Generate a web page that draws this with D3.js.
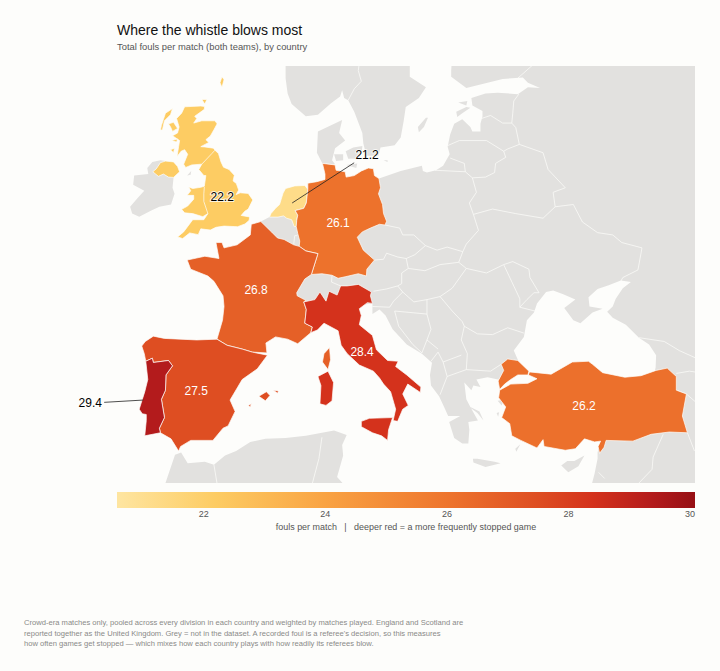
<!DOCTYPE html>
<html>
<head>
<meta charset="utf-8">
<script src="https://cdn.jsdelivr.net/npm/d3@7"></script>
<style>
  html, body { margin: 0; padding: 0; background: #fdfdfb; }
  svg { display: block; font-family: "Liberation Sans", Arial, sans-serif; }
</style>
</head>
<body>
<svg id="chart" width="720" height="671"></svg>
<script>
// fouls per match
const countries = ["United Kingdom", "Netherlands", "Germany", "France", "Spain", "Italy", "Portugal", "Turkey"];
const foulValues = [22.2, 21.2, 26.1, 26.8, 27.5, 28.4, 29.4, 26.2];

// label anchors, lon/lat
const labelLon = [-1.28, 13.07, 10.2, 2.08, -3.86, 12.58, -14.35, 34.56];
const labelLat = [52.7, 55.47, 51.0, 46.6, 39.94, 42.5, 39.2, 38.95];
const labelColors = ["#000", "#000", "#fff", "#fff", "#fff", "#fff", "#000", "#fff"];

// colour bar
const rampStops = [20.6, 22.2, 24, 26, 27.5, 28.4, 29.4, 30.1];
const rampColors = ["#fee5a0", "#fdcc63", "#f9a343", "#ee752d", "#de4e22", "#d4321c", "#b31b1c", "#960f14"];
const legendTicks = [22, 24, 26, 28, 30];

// outlines, all lon/lat
const gbMain = [[-5.7,50.07],[-5.2,49.96],[-4.5,50.33],[-3.65,50.22],[-3.4,50.6],[-2.45,50.52],[-1.9,50.7],[-1.1,50.78],[0.25,50.74],[0.97,50.92],[1.38,51.15],[1.44,51.38],[0.6,51.48],[0.95,51.75],[1.3,51.9],[1.75,52.5],[1.3,52.93],[0.5,52.97],[0.1,52.85],[0.35,53.15],[0.12,53.58],[-0.2,53.75],[-0.08,54.12],[-0.6,54.5],[-1.15,54.65],[-1.4,55.0],[-1.65,55.55],[-2.0,55.77],[-2.15,55.9],[-3.0,55.98],[-3.4,56.0],[-2.6,56.28],[-2.9,56.46],[-2.45,56.7],[-2.07,57.15],[-1.78,57.5],[-2.0,57.7],[-3.3,57.7],[-4.1,57.55],[-3.8,57.85],[-4.0,58.0],[-3.05,58.45],[-3.03,58.64],[-3.4,58.67],[-5.0,58.62],[-5.3,58.2],[-5.8,57.85],[-5.55,57.3],[-5.7,56.9],[-6.2,56.72],[-5.5,56.4],[-5.6,56.0],[-5.75,55.35],[-5.35,55.7],[-5.0,55.8],[-4.7,55.5],[-5.1,54.85],[-4.9,54.63],[-4.3,54.8],[-3.3,54.85],[-3.6,54.5],[-3.1,54.1],[-2.9,54.1],[-3.05,53.4],[-3.4,53.33],[-4.2,53.25],[-4.6,53.35],[-4.4,53.1],[-4.75,52.8],[-4.1,52.8],[-4.1,52.55],[-4.7,52.1],[-5.3,51.88],[-5.0,51.65],[-4.2,51.6],[-3.2,51.4],[-2.7,51.6],[-3.1,51.2],[-4.2,51.2],[-5.1,50.4]];
const gbIslands = [
  [[-6.2,58.5],[-6.9,58.2],[-7.1,57.8],[-7.3,57.4],[-7.4,57.1],[-7.2,57.1],[-7.0,57.7],[-6.4,58.1]],
  [[-6.6,57.5],[-6.1,57.6],[-5.7,57.2],[-6.2,57.0],[-6.4,57.3]],
  [[-6.3,56.4],[-5.7,56.5],[-5.8,56.3]],
  [[-6.4,55.8],[-6.0,55.9],[-6.1,55.6]],
  [[-3.3,59.1],[-2.8,59.1],[-3.0,58.8]],
  [[-1.3,60.6],[-1.1,60.4],[-1.3,59.9],[-1.5,60.2]]
];
const northernIreland = [[-7.4,54.95],[-6.9,55.05],[-6.1,55.0],[-5.7,54.7],[-5.5,54.35],[-6.1,53.98],[-6.6,54.0],[-7.1,54.2],[-7.6,54.05],[-8.15,54.35],[-7.8,54.55]];
const netherlands = [[3.4,51.37],[4.25,51.37],[4.8,51.45],[5.1,51.3],[5.6,51.2],[5.85,50.75],[6.05,50.75],[6.1,51.15],[6.2,51.5],[5.95,51.8],[6.8,51.95],[7.05,52.3],[7.2,53.2],[6.9,53.45],[5.9,53.42],[5.0,53.25],[4.75,52.95],[4.4,52.2],[4.0,51.95],[3.55,51.6]];
const germany = [[7.2,53.2],[7.05,52.3],[6.8,51.95],[5.95,51.8],[6.2,51.5],[6.1,51.15],[6.05,50.75],[6.2,50.3],[6.4,49.8],[6.35,49.45],[7.0,49.15],[8.2,48.97],[7.55,47.6],[8.6,47.65],[9.6,47.55],[10.2,47.35],[10.9,47.45],[12.2,47.65],[13.0,47.5],[13.05,47.95],[13.8,48.55],[12.7,49.2],[12.1,50.05],[12.6,50.4],[13.4,50.65],[14.3,50.9],[14.85,50.85],[15.0,51.1],[14.7,51.6],[14.6,52.2],[14.2,52.9],[14.4,53.3],[14.25,53.9],[13.8,54.1],[13.7,54.55],[13.2,54.6],[12.5,54.4],[11.8,54.1],[11.0,54.0],[10.9,54.35],[10.0,54.45],[9.9,54.8],[8.65,54.9],[8.9,54.2],[8.9,53.85],[8.1,53.7],[7.2,53.6]];
const france = [[2.55,51.08],[1.6,50.9],[1.5,50.2],[0.2,49.55],[-1.1,49.35],[-1.3,49.7],[-1.9,49.7],[-1.6,48.65],[-3.0,48.8],[-4.75,48.55],[-4.4,47.95],[-2.7,47.5],[-2.1,47.15],[-1.2,46.2],[-1.1,45.5],[-1.25,44.6],[-1.8,43.35],[-0.8,42.95],[0.7,42.7],[1.7,42.5],[3.15,42.45],[3.05,43.1],[4.0,43.5],[5.2,43.35],[6.2,43.05],[7.5,43.78],[7.65,44.15],[6.9,44.4],[7.05,45.3],[6.8,45.8],[7.0,45.9],[6.15,46.2],[6.1,46.4],[6.9,47.3],[7.55,47.6],[8.2,48.97],[7.0,49.15],[6.35,49.45],[5.8,49.55],[4.85,49.9],[4.2,50.0],[3.6,50.4]];
const corsica = [[9.35,42.8],[9.45,42.0],[9.2,41.35],[8.65,41.85],[8.8,42.4]];
const spain = [[-9.25,42.9],[-8.9,43.2],[-8.1,43.55],[-7.0,43.4],[-3.8,43.3],[-1.8,43.35],[-0.8,42.95],[0.7,42.7],[1.7,42.5],[3.2,42.3],[2.2,41.4],[0.7,40.7],[-0.5,39.35],[0.0,38.6],[-0.7,37.65],[-1.2,37.5],[-2.2,36.7],[-4.4,36.7],[-5.4,36.3],[-5.6,36.0],[-6.35,36.8],[-7.4,37.2],[-7.5,37.5],[-7.0,38.2],[-7.3,39.4],[-6.9,40.0],[-6.85,41.0],[-6.2,41.6],[-6.6,41.95],[-8.1,41.82],[-8.2,42.1],[-8.85,41.9],[-9.0,42.4]];
const balearics = [
  [[2.35,39.6],[3.1,39.9],[3.45,39.65],[3.0,39.3]],
  [[3.8,40.0],[4.3,39.95],[4.2,39.8]],
  [[1.3,39.0],[1.6,39.1],[1.5,38.9]]
];
const portugal = [[-8.85,41.9],[-8.2,42.1],[-8.1,41.82],[-6.6,41.95],[-6.2,41.6],[-6.85,41.0],[-6.9,40.0],[-7.3,39.4],[-7.0,38.2],[-7.5,37.5],[-7.4,37.2],[-8.95,37.0],[-8.8,38.0],[-8.8,38.4],[-9.2,38.45],[-9.5,38.75],[-8.95,39.9],[-8.65,40.7]];
const italy = [[7.5,43.78],[7.65,44.15],[6.9,44.4],[7.05,45.3],[6.8,45.8],[7.9,45.95],[8.4,46.45],[9.0,45.85],[9.3,46.5],[10.1,46.25],[10.45,46.85],[11.1,46.85],[12.2,46.95],[13.5,46.45],[13.4,46.2],[13.6,45.7],[13.1,45.75],[12.3,45.35],[12.5,44.9],[12.3,44.3],[13.6,43.6],[14.0,42.65],[15.1,41.95],[16.15,41.9],[15.9,41.55],[17.0,41.0],[18.4,40.2],[18.35,39.85],[17.1,40.4],[16.6,39.75],[17.15,39.0],[16.6,38.75],[16.1,37.95],[15.65,38.0],[15.9,38.75],[15.4,39.9],[14.7,40.4],[14.3,40.8],[13.7,41.25],[12.3,41.65],[11.1,42.4],[10.5,42.95],[10.2,43.9],[8.8,44.4],[8.15,43.95]];
const sicily = [[12.5,37.95],[13.3,38.15],[15.6,38.2],[15.2,37.4],[15.1,36.7],[14.5,37.0],[13.6,37.2],[12.5,37.6]];
const sardinia = [[8.2,40.9],[9.2,41.25],[9.75,40.5],[9.6,39.3],[9.0,39.0],[8.4,39.1],[8.5,40.3]];
const turkeyThrace = [[26.05,40.6],[26.6,41.3],[26.35,41.7],[27.0,42.05],[28.0,41.95],[29.1,41.25],[29.0,41.0],[28.0,41.0],[27.3,40.7],[26.7,40.4],[26.2,40.05]];
const turkeyAnatolia = [[29.15,41.2],[31.3,41.05],[33.4,41.85],[35.0,41.9],[35.4,41.7],[36.4,41.15],[38.6,40.85],[40.2,40.95],[41.7,41.3],[42.8,41.45],[43.7,40.9],[43.7,40.0],[44.7,39.75],[44.3,38.3],[44.8,37.2],[43.0,37.25],[41.2,37.1],[39.4,36.65],[36.75,36.7],[36.55,36.25],[36.1,35.85],[35.95,36.3],[36.2,36.65],[35.6,36.6],[34.6,36.8],[33.7,36.15],[32.7,36.05],[30.6,36.3],[30.5,36.75],[29.9,36.2],[28.3,36.7],[27.4,37.0],[27.2,37.8],[26.4,38.2],[26.8,38.9],[26.1,39.5],[26.2,40.0],[27.3,40.4],[29.0,40.45],[29.9,40.75],[29.05,41.0]];

const greyMainland = [[2.55,51.08],[3.4,51.37],[5,52],[8,53.5],[14.25,53.9],[16.4,54.4],[18.5,54.75],[18.6,54.4],[19.0,54.3],[19.9,54.45],[20.6,54.75],[21.25,55.5],[21.05,56],[21.3,56.8],[21.7,57.5],[22.5,57.8],[23.3,57.3],[23.5,57.0],[24.3,57.0],[24.3,57.5],[24.5,58.0],[24.5,58.35],[23.5,58.7],[23.4,59.2],[24.8,59.5],[26,59.55],[28,59.45],[29.0,59.9],[30.2,59.85],[29.0,60.2],[28.5,60.55],[26.5,60.45],[25,60.2],[22.9,59.85],[21.4,60.6],[21.4,61.0],[21.5,62],[50,62],[50,33],[35.0,33],[35.6,34.5],[35.9,35.5],[35.9,35.9],[36.5,37.5],[38,40],[41.5,41],[41.65,41.5],[41.7,42.3],[41.0,43.0],[40.0,43.45],[38.7,44.3],[37.4,44.75],[36.85,45.15],[37.4,45.5],[37.7,46.0],[38.4,46.7],[39.2,47.1],[38.2,47.2],[37.0,46.9],[35.9,46.65],[35.0,46.1],[35.1,45.5],[36.4,45.35],[35.4,45.1],[34.2,44.4],[33.5,44.6],[32.6,45.4],[33.7,45.95],[32.5,46.3],[31.5,46.55],[30.8,46.45],[29.9,45.7],[29.6,45.1],[28.9,44.6],[28.6,43.5],[27.6,42.6],[28.0,42.0],[27.5,41.3],[26.5,41.0],[26.05,40.7],[25.0,40.85],[23.9,40.7],[24.3,40.2],[23.6,40.3],[23.4,40.0],[22.7,40.5],[22.9,39.4],[23.3,38.9],[24.05,38.0],[23.1,37.9],[23.2,37.4],[23.1,36.5],[22.5,36.5],[21.7,36.85],[21.2,37.9],[22.3,38.3],[21.1,38.3],[20.7,38.9],[20.2,39.6],[19.4,40.3],[19.3,41.0],[19.5,41.8],[18.5,42.4],[17,43.0],[15.6,44.0],[14.9,44.9],[14.3,45.3],[13.6,45.0],[13.6,45.7],[11,45.5],[8,45],[6,45],[3,47]];
const scandinavia = [[5.0,62],[5.0,60.5],[5.2,59.5],[5.6,58.8],[7.0,58.0],[8.2,58.1],[9.5,58.85],[10.4,59.3],[10.6,59.7],[10.8,59.2],[11.2,59.05],[11.8,58.3],[12.6,56.9],[12.7,56.2],[13.0,55.4],[14.2,55.4],[14.4,55.95],[15.8,56.1],[16.4,56.6],[16.7,57.7],[16.9,58.6],[18.2,59.2],[18.9,59.9],[17.3,60.6],[17.3,62]];
const africa = [[-6.9,33.9],[-5.95,35.75],[-5.35,35.9],[-4.7,35.2],[-3.0,35.3],[-2.1,35.1],[-1,35.7],[0.1,36.0],[1.5,36.6],[3,36.8],[5,36.85],[7,37.0],[9.8,37.35],[11.05,37.05],[10.6,36.4],[10.7,35.7],[10.1,34.3],[10.9,33.7],[11,33],[-7,33]];
const greyIslands = [
  [[-6.1,53.95],[-6.2,53.3],[-6.0,52.9],[-6.35,52.2],[-7.5,52.05],[-8.3,51.8],[-9.5,51.4],[-10.2,51.6],[-10.4,52.05],[-9.7,52.6],[-9.0,53.1],[-10.1,53.5],[-10.0,54.1],[-8.6,54.2],[-8.7,54.6],[-8.2,55.0],[-7.4,55.1],[-6.9,55.05],[-6.2,55.0]],
  [[-4.75,54.1],[-4.35,54.4],[-4.4,54.15]],
  [[8.1,55.6],[8.2,57.0],[10.6,57.75],[10.3,56.9],[10.9,56.4],[9.9,55.9],[9.6,55.1],[9.9,54.85],[8.65,54.9]],
  [[9.8,55.5],[10.7,55.5],[10.7,55.1],[10.0,55.05]],
  [[10.95,55.7],[11.7,55.95],[12.6,56.05],[12.55,55.65],[12.2,55.2],[11.2,55.2]],
  [[11,54.8],[12.1,54.9],[12.0,54.6]],
  [[14.7,55.1],[15.1,55.1],[15.1,55.0]],
  [[18.1,57.3],[18.9,57.9],[19.1,57.9],[18.7,57.3],[18.2,56.95]],
  [[21.9,58.3],[22.9,58.6],[23.3,58.55],[22.5,58.2],[22.0,57.95]],
  [[22.1,58.9],[23.0,59.0],[22.9,58.7]],
  [[23.0,39.0],[24.2,38.6],[24.6,38.0],[24.0,38.5]],
  [[26.0,39.3],[26.6,39.35],[26.4,39.0]],
  [[25.9,38.5],[26.15,38.55],[26.05,38.25]],
  [[27.75,36.15],[28.25,36.45],[27.85,35.95]],
  [[23.55,35.5],[24.0,35.5],[25.7,35.3],[26.3,35.2],[24.8,34.95],[23.6,35.25]],
  [[32.3,35.05],[33.0,34.6],[34.0,35.0],[34.6,35.7],[33.6,35.35],[32.9,35.35]]
];
const greyBorders = [
  [[5.8,49.55],[5.9,50.15],[6.15,50.15]],
  [[9.6,47.55],[9.55,47.1],[10.45,46.85]],
  [[13.8,48.55],[14.7,48.6],[15.0,49.0],[16.1,48.75],[16.95,48.65],[17.15,48.0],[16.5,47.7],[16.5,47.0],[16.1,46.85],[15.0,46.65],[13.7,46.5]],
  [[14.85,50.85],[16.3,50.65],[16.6,50.2],[17.7,50.2],[18.85,49.5],[20.0,49.2],[21.0,49.4],[22.55,49.1],[22.9,49.6],[24.1,50.5],[23.6,51.55],[23.2,52.3],[23.9,53.0],[23.5,53.95],[22.8,54.35],[19.8,54.45]],
  [[16.95,48.65],[17.8,48.9],[18.85,49.5]],
  [[22.8,54.35],[22.7,54.9],[21.3,55.25]],
  [[21.05,56.07],[22.2,56.4],[24.9,56.4],[26.6,55.7],[26.8,55.3],[25.8,54.9],[25.7,54.3],[24.8,54.0],[23.5,53.95]],
  [[24.4,57.85],[25.3,58.05],[26.5,57.55],[27.4,57.55],[27.8,57.25],[28.15,56.15],[27.0,55.85],[26.6,55.7]],
  [[27.4,57.55],[27.5,58.2],[27.6,59.0],[28.1,59.45]],
  [[28.15,56.15],[30.5,55.6],[31,54.5],[32.7,53.3],[31.5,53],[31.7,52.05],[30.5,51.3],[27.8,51.6],[25.5,51.9],[23.6,51.55]],
  [[31.7,52.05],[33.5,52.2],[34.4,51.05],[35.9,50.35],[37.4,50.2],[38.3,49.7],[40.3,49.35],[39.9,47.9],[38.4,47.4],[38.2,47.15]],
  [[22.55,49.1],[22.15,48.4],[22.9,48.0],[24.9,47.7],[26.6,48.25],[27.5,48.45],[29.1,47.95],[29.2,47.4],[30.1,46.4],[29.6,46.4],[28.9,45.95],[28.2,45.45],[29.7,45.2]],
  [[26.6,48.25],[28.2,46.0],[28.2,45.45]],
  [[22.9,48.0],[21.5,46.7],[20.3,46.15],[21.5,45.2],[22.5,44.5],[22.7,44.2],[24.0,43.7],[25.5,43.65],[27.0,44.1],[28.6,43.75]],
  [[22.7,44.2],[22.4,43.3],[23.0,42.4],[22.9,41.35],[25.3,41.25],[26.35,41.7]],
  [[22.9,41.35],[21.0,40.9],[20.3,39.7]],
  [[21.0,40.9],[20.6,41.85],[20.1,42.5],[19.4,41.9]],
  [[20.6,41.85],[22.4,42.3]],
  [[20.3,46.15],[19.0,45.95],[17.7,45.8],[16.6,46.45],[16.1,46.85]],
  [[16.6,46.45],[15.7,45.85],[15.3,45.45],[13.6,45.5]],
  [[15.8,45.2],[19.0,45.0],[19.4,44.0],[19.0,43.3],[18.5,42.45],[17.6,43.0],[16.2,44.2],[15.8,45.2]],
  [[19.0,43.3],[20.1,42.7]],
  [[17.15,48.0],[18.8,47.85],[20.3,48.25],[22.15,48.4]],
  [[19.0,45.95],[19.0,45.0]],
  [[40.0,43.45],[42.5,43.2],[44.0,42.6],[46,42]],
  [[43.7,41.1],[45.0,41.25],[46.5,41.1]],
  [[43.7,40.0],[44.7,39.75],[46,39]],
  [[44.8,37.2],[45.5,36]],
  [[42.4,37.1],[41.4,35.6],[41.3,34.8],[40,33.9]],
  [[36,34.6],[36.6,34.2]],
  [[-2.1,35.1],[-1.7,33.5]],
  [[8.6,36.9],[8.3,35.5],[7.5,33.5]],
  [[11.2,59.05],[11.8,59.8],[12.5,60.3],[12.2,61.0],[12.3,61.5]],
  [[28.0,60.5],[29.7,61.5]]
];
const gbInnerBorders = [
  [[-3.3,54.85],[-2.3,55.55],[-2.0,55.77]],
  [[-3.05,53.35],[-3.1,52.9],[-3.1,52.4],[-2.7,51.6]]
];

// which outlines belong to which country
const countryShapes = [
  [gbMain, northernIreland, ...gbIslands],
  [netherlands],
  [germany],
  [france, corsica],
  [spain, ...balearics],
  [italy, sicily, sardinia],
  [portugal],
  [turkeyThrace, turkeyAnatolia]
];

// leader lines: from the country to the outside label
const leaders = [
  [[5.65,52.3],[11.79,54.94]],
  [[-9.1,39.35],[-12.97,39.2]]
];

const svg = d3.select("#chart");
const left = 117, right = 695, top_ = 66, bottom = 483;

// the reference is a plain lon/lat grid, stretched in y
const x = d3.scaleLinear().domain([-11.7, 45.55]).range([left, right]);
const y = d3.scaleLinear().domain([33.9, 61.3]).range([bottom, top_]);
const path = d3.geoPath(d3.geoTransform({
  point(lon, lat) { this.stream.point(x(lon), y(lat)); }
}));
const color = d3.scaleLinear().domain(rampStops).range(rampColors);

const closeRing = r => [...r, r[0]];
const multiPoly = rings => ({ type: "MultiPolygon", coordinates: rings.map(r => [closeRing(r)]) });

svg.append("clipPath").attr("id", "map-clip")
  .append("rect").attr("x", left).attr("y", top_).attr("width", right - left).attr("height", bottom - top_);

const map = svg.append("g").attr("clip-path", "url(#map-clip)");

// grey land first, then its borders
map.append("path")
  .attr("d", path(multiPoly([greyMainland, scandinavia, africa, ...greyIslands])))
  .attr("fill", "#e2e1df");
map.append("path")
  .attr("d", path({ type: "MultiLineString", coordinates: greyBorders }))
  .attr("fill", "none").attr("stroke", "#fdfdfb").attr("stroke-width", 0.7);

// countries in the dataset
map.selectAll(".country")
  .data(countries)
  .enter().append("path")
  .attr("class", "country")
  .attr("d", (d, i) => path(multiPoly(countryShapes[i])))
  .attr("fill", (d, i) => color(foulValues[i]))
  .attr("stroke", "#fdfdfb")
  .attr("stroke-width", 0.7)
  .attr("stroke-linejoin", "round");

map.append("path")
  .attr("d", path({ type: "MultiLineString", coordinates: gbInnerBorders }))
  .attr("fill", "none").attr("stroke", "#fdfdfb").attr("stroke-width", 0.7);

// leaders and value labels
svg.selectAll(".leader")
  .data(leaders)
  .enter().append("path")
  .attr("class", "leader")
  .attr("d", d => path({ type: "LineString", coordinates: d }))
  .attr("fill", "none").attr("stroke", "#222").attr("stroke-width", 0.8);

svg.selectAll(".value")
  .data(foulValues)
  .enter().append("text")
  .attr("class", "value")
  .attr("x", (d, i) => x(labelLon[i]))
  .attr("y", (d, i) => y(labelLat[i]))
  .attr("dy", "0.35em")
  .attr("text-anchor", "middle")
  .attr("font-size", 12)
  .attr("fill", (d, i) => labelColors[i])
  .attr("stroke", (d, i) => labelColors[i] === "#000" ? "rgba(253,253,251,.8)" : "none")
  .attr("stroke-width", 2)
  .attr("paint-order", "stroke")
  .text(d => d3.format(".1f")(d));

// colour bar
const legendX = d3.scaleLinear().domain([20.58, 30.09]).range([left, right]);
const grad = svg.append("linearGradient").attr("id", "ramp");
grad.selectAll("stop")
  .data(rampStops)
  .enter().append("stop")
  .attr("offset", d => Math.min(1, (d - 20.58) / (30.09 - 20.58)))
  .attr("stop-color", (d, i) => rampColors[i]);
svg.append("rect")
  .attr("x", left).attr("y", 492).attr("width", right - left).attr("height", 16)
  .attr("fill", "url(#ramp)");

const gx = svg.append("g")
  .attr("transform", "translate(0,508)")
  .call(d3.axisBottom(legendX).tickValues(legendTicks).tickSize(0).tickPadding(3));
gx.select(".domain").remove();
gx.selectAll("text").attr("font-size", 9).attr("font-family", "Liberation Sans").attr("fill", "#555");

svg.append("text")
  .attr("x", (left + right) / 2).attr("y", 530)
  .attr("text-anchor", "middle").attr("font-size", 8.95).attr("fill", "#555")
  .attr("xml:space", "preserve")
  .text("fouls per match   |   deeper red = a more frequently stopped game");

// titles
svg.append("text").attr("x", 117).attr("y", 35).attr("font-size", 14).attr("fill", "#111")
  .text("Where the whistle blows most");
svg.append("text").attr("x", 117).attr("y", 50).attr("font-size", 9.4).attr("fill", "#555")
  .text("Total fouls per match (both teams), by country");

// footnote
const footLines = [
  "Crowd-era matches only, pooled across every division in each country and weighted by matches played. England and Scotland are",
  "reported together as the United Kingdom. Grey = not in the dataset. A recorded foul is a referee's decision, so this measures",
  "how often games get stopped \u2014 which mixes how each country plays with how readily its referees blow."
];
svg.selectAll(".foot")
  .data(footLines)
  .enter().append("text")
  .attr("class", "foot")
  .attr("x", 24)
  .attr("y", (d, i) => 625 + i * 10.5)
  .attr("font-size", 7.6)
  .attr("fill", "#8a8a88")
  .text(d => d);
</script>
</body>
</html>
